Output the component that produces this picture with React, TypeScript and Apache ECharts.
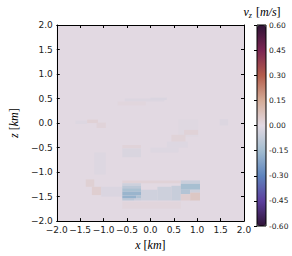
import React, { useEffect, useRef } from "react";
import * as echarts from "echarts";

// Each cell: [x0 (km), x1 (km), zTop (km), zBottom (km), v_z (m/s)]
type Cell = [number, number, number, number, number];

const background: Cell[] = [[-2, 2, 2, -2, 0]];

const faintUpper: Cell[] = [
  [-0.55, 0.3, 0.5, 0.44, -0.015],
  [-0.7, -0.1, 0.44, 0.36, 0.01],
  [0.0, 0.35, 0.52, 0.47, -0.02],
  [-1.6, -1.35, 0.05, -0.02, -0.012],
  [-1.35, -1.12, 0.07, 0.0, 0.025],
  [-1.15, -0.95, 0.01, -0.1, 0.018],
  [0.6, 1.02, 0.08, -0.28, -0.008],
  [1.48, 1.66, 0.08, -0.05, -0.015],
  [0.72, 1.02, -0.14, -0.24, 0.022],
  [0.45, 0.75, -0.24, -0.38, 0.02],
  [0.35, 0.8, -0.38, -0.5, -0.012],
];

const faintMiddle: Cell[] = [
  [-0.6, -0.2, -0.45, -0.52, 0.018],
  [-0.6, -0.2, -0.52, -0.7, -0.022],
  [-1.2, -0.95, -0.6, -1.05, -0.012],
  [0.0, 0.6, -0.5, -0.6, -0.012],
];

const lowerLeft: Cell[] = [
  [-1.38, -1.2, -1.15, -1.3, 0.03],
  [-1.25, -1.05, -1.3, -1.47, 0.035],
  [-1.05, -0.6, -1.3, -1.5, -0.02],
];

const band: Cell[] = [
  [-0.6, 0.65, -1.17, -1.23, 0.022],
  [-0.2, 0.15, -1.36, -1.58, -0.045],
  [0.15, 0.45, -1.3, -1.58, -0.05],
  [0.45, 0.65, -1.28, -1.58, -0.065],
  [-0.6, 0.65, -1.6, -1.75, 0.012],
];

const leftPatch: Cell[] = [
  [-0.6, -0.2, -1.23, -1.28, -0.05],
  [-0.6, -0.2, -1.28, -1.33, -0.09],
  [-0.6, -0.2, -1.33, -1.4, -0.13],
  [-0.6, -0.2, -1.4, -1.48, -0.17],
  [-0.6, -0.3, -1.48, -1.54, -0.18],
  [-0.3, -0.2, -1.48, -1.54, -0.12],
  [-0.6, -0.35, -1.54, -1.58, -0.09],
  [-0.35, -0.2, -1.54, -1.58, -0.06],
];

const rightPatch: Cell[] = [
  [0.65, 1.06, -1.17, -1.24, -0.06],
  [0.65, 1.06, -1.24, -1.36, -0.14],
  [0.65, 0.85, -1.36, -1.45, -0.11],
  [0.85, 1.06, -1.36, -1.42, -0.05],
  [0.85, 1.06, -1.42, -1.58, 0.06],
  [0.65, 0.85, -1.45, -1.58, 0.035],
];

const colorStops = [
  "#2f1436", "#5d3f9e", "#5e84bd", "#a3bdd0", "#e2d9e2",
  "#d4ab96", "#b35c4b", "#7b2553", "#2f1436",
];

const vMin = -0.6;
const vMax = 0.6;
const vStep = 0.15;
const axisMin = -2;
const axisMax = 2;
const axisStep = 0.5;

const cells: Cell[] = [
  ...background, ...faintUpper, ...faintMiddle, ...lowerLeft, ...band, ...leftPatch, ...rightPatch,
];

const fmtMain = (v: number) => (v < -1e-9 ? "\u2212" : "") + Math.abs(v).toFixed(1);
const fmtBar = (v: number) => (Math.abs(v) < 1e-9 ? "0.00" : v.toFixed(2));

const tickFont = { fontFamily: "DejaVu Sans", fontSize: 9, color: "#222" };
const lineStyle = { color: "#000", width: 1 };

export default function App() {
  const ref = useRef<HTMLDivElement>(null);
  useEffect(() => {
    const chart = echarts.init(ref.current!, null, { renderer: "svg" });
    const mainAxis = (pos: string, label: boolean) => ({
      gridIndex: 0,
      type: "value",
      min: axisMin,
      max: axisMax,
      interval: axisStep,
      position: pos,
      z: 10,
      axisLine: { show: true, onZero: false, lineStyle },
      axisTick: { show: true, inside: true, length: 3, lineStyle },
      axisLabel: { show: label, formatter: fmtMain, margin: 4, ...tickFont },
      splitLine: { show: false },
    });
    const nameStyle = {
      fontFamily: "Liberation Serif",
      fontSize: 12,
      color: "#000",
      rich: { i: { fontStyle: "italic", fontFamily: "Liberation Serif", fontSize: 12, color: "#000" } },
    };
    chart.setOption({
      animation: false,
      backgroundColor: "#fff",
      grid: [
        { left: 43, top: 25, width: 201, height: 202, show: false },
        { left: 257, top: 25, width: 9, height: 201, show: false },
      ],
      xAxis: [
        {
          ...mainAxis("bottom", true),
          name: "{i|x} [{i|km}]",
          nameLocation: "middle",
          nameGap: 13,
          nameTextStyle: nameStyle,
        },
        mainAxis("top", false),
        { gridIndex: 1, type: "value", min: 0, max: 1, show: false },
      ],
      yAxis: [
        {
          ...mainAxis("left", true),
          name: "{i|z} [{i|km}]",
          nameLocation: "middle",
          nameGap: 27,
          nameTextStyle: nameStyle,
        },
        mainAxis("right", false),
        {
          gridIndex: 1,
          type: "value",
          min: vMin,
          max: vMax,
          interval: vStep,
          position: "right",
          z: 10,
          axisLine: { show: false },
          axisTick: { show: true, inside: true, length: 3, lineStyle: { color: "#000", width: 1 } },
          axisLabel: { formatter: fmtBar, margin: 3, fontFamily: "DejaVu Sans", fontSize: 7.5, color: "#222" },
          splitLine: { show: false },
        },
      ],
      visualMap: {
        type: "continuous",
        min: vMin,
        max: vMax,
        dimension: 4,
        seriesIndex: 0,
        calculable: false,
        left: 257,
        top: 25,
        itemWidth: 9,
        itemHeight: 201,
        padding: 0,
        inRange: { color: colorStops },
      },
      graphic: [
        {
          type: "rect",
          z: 100,
          shape: { x: 257, y: 25, width: 9, height: 201 },
          style: { fill: "none", stroke: "#000", lineWidth: 1 },
        },
        {
          type: "text",
          z: 100,
          x: 262,
          y: 12,
          style: {
            text: "{v|v}{s|z} [{v|m/s}]",
            fontFamily: "Liberation Serif",
            fontSize: 12,
            fill: "#000",
            align: "center",
            verticalAlign: "middle",
            rich: {
              v: { fontStyle: "italic", fontFamily: "Liberation Serif", fontSize: 12 },
              s: { fontStyle: "italic", fontFamily: "Liberation Serif", fontSize: 8, padding: [6, 1, 0, 0] },
            },
          },
        },
      ],
      series: [
        {
          type: "custom",
          xAxisIndex: 0,
          yAxisIndex: 0,
          clip: true,
          encode: { x: [0, 1], y: [2, 3] },
          data: cells,
          renderItem: (params: any, api: any) => {
            const p0 = api.coord([api.value(0), api.value(2)]);
            const p1 = api.coord([api.value(1), api.value(3)]);
            return {
              type: "rect",
              shape: { x: p0[0], y: p0[1], width: p1[0] - p0[0], height: p1[1] - p0[1] },
              style: { fill: api.visual("color") },
            };
          },
        },
      ],
    } as any);
    return () => chart.dispose();
  }, []);
  return <div ref={ref} style={{ position: "fixed", left: 0, top: 0, width: 292, height: 256 }} />;
}
